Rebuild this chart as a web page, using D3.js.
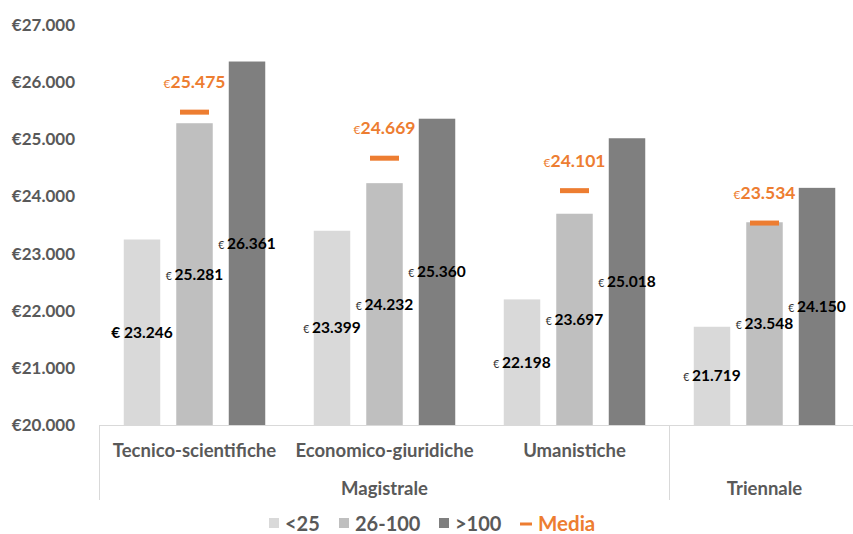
<!DOCTYPE html>
<html>
<head>
<meta charset="utf-8">
<script src="https://cdn.jsdelivr.net/npm/d3@7"></script>
<style>
  body { margin: 0; background: #fff; }
  svg { display: block; font-family: Lato, "Open Sans", sans-serif; }
</style>
</head>
<body>
<div id="chart"></div>
<script>
const groups = ['Tecnico-scientifiche', 'Economico-giuridiche', 'Umanistiche', 'Triennale']
const levels = ['Magistrale', 'Magistrale', 'Magistrale', 'Triennale']
const series = ['<25', '26-100', '>100']
const valLow = [23246, 23399, 22198, 21719]
const valMid = [25281, 24232, 23697, 23548]
const valHigh = [26361, 25360, 25018, 24150]
const media = [25475, 24669, 24101, 23534]
const yTicks = [20000, 21000, 22000, 23000, 24000, 25000, 26000, 27000]

const colors = ['#d9d9d9', '#bfbfbf', '#7f7f7f']
const orange = '#ed7d31'
const grey = '#595959'

const width = 853, height = 534
const svg = d3.select('#chart').append('svg')
    .attr('width', width)
    .attr('height', height)

const x0 = d3.scaleBand().domain(groups).range([99.5, 859.5])
const x1 = d3.scaleBand().domain(series).range([0, x0.bandwidth()])
    .paddingInner(0.305).paddingOuter(0.462)
const y = d3.scaleLinear().domain([20000, 27000]).range([425, 25])

const fmt = v => d3.format(',')(v).replace(/,/g, '.')

// y axis labels
svg.append('g')
  .selectAll('text')
  .data(yTicks)
  .enter().append('text')
    .attr('x', 75)
    .attr('y', d => y(d))
    .attr('dy', '0.35em')
    .attr('text-anchor', 'end')
    .attr('font-size', 17)
    .attr('font-weight', 'bold')
    .attr('fill', grey)
    .text(d => '€' + fmt(d))

// bars
const rows = groups.map((g, i) => ({
  group: g, idx: i,
  vals: [valLow[i], valMid[i], valHigh[i]]
}))

const gGroup = svg.append('g')
  .selectAll('g')
  .data(rows)
  .enter().append('g')
    .attr('transform', d => 'translate(' + x0(d.group) + ',0)')

gGroup.selectAll('rect')
  .data(d => d.vals.map((v, j) => ({ s: series[j], v: v, j: j, gi: d.idx })))
  .enter().append('rect')
    .attr('x', d => x1(d.s))
    .attr('y', d => y(d.v))
    .attr('width', x1.bandwidth())
    .attr('height', d => y(20000) - y(d.v))
    .attr('fill', d => colors[d.j])

// value labels, centred in the bars
const lab = gGroup.selectAll('text.val')
  .data(d => d.vals.map((v, j) => ({ s: series[j], v: v, j: j, gi: d.idx })))
  .enter().append('text')
    .attr('class', 'val')
    .attr('x', d => x1(d.s) + x1.bandwidth() / 2)
    .attr('y', d => (y(d.v) + y(20000)) / 2)
    .attr('dy', '0.35em')
    .attr('text-anchor', 'middle')
    .attr('font-size', 15.5)
    .attr('font-weight', 'bold')
    .attr('fill', '#000')
lab.append('tspan')
    .attr('font-size', d => d.gi === 0 && d.j === 0 ? 15.5 : 10.5)
    .attr('font-weight', d => d.gi === 0 && d.j === 0 ? 'bold' : 'normal')
    .attr('fill', d => d.gi === 0 && d.j === 0 ? '#000' : '#333')
    .text('€ ')
lab.append('tspan').text(d => fmt(d.v))

// media dash + label
gGroup.append('rect')
    .attr('x', x1('26-100') + x1.bandwidth() / 2 - 14.5)
    .attr('y', d => y(media[d.idx]) - 2.5)
    .attr('width', 29)
    .attr('height', 5)
    .attr('fill', orange)

const ml = gGroup.append('text')
    .attr('x', x1('26-100') + x1.bandwidth() / 2)
    .attr('y', d => y(media[d.idx]) - 30)
    .attr('dy', '0.35em')
    .attr('text-anchor', 'middle')
    .attr('font-size', 17.5)
    .attr('font-weight', 'bold')
    .attr('fill', orange)
ml.append('tspan').attr('font-size', 12).attr('font-weight', 'normal').text('€')
ml.append('tspan').text(d => fmt(media[d.idx]))

// category axis
svg.append('line')
    .attr('x1', 99.5).attr('x2', 859.5)
    .attr('y1', 425.5).attr('y2', 425.5)
    .attr('stroke', '#d9d9d9')
const dividers = [99.5, x0('Triennale')]
svg.append('g').selectAll('line')
  .data(dividers)
  .enter().append('line')
    .attr('x1', d => d).attr('x2', d => d)
    .attr('y1', 425).attr('y2', 500)
    .attr('stroke', '#d9d9d9')

svg.append('g').selectAll('text')
  .data(groups.slice(0, 3))
  .enter().append('text')
    .attr('x', d => x0(d) + x0.bandwidth() / 2)
    .attr('y', 451)
    .attr('dy', '0.35em')
    .attr('text-anchor', 'middle')
    .attr('font-size', 18.5)
    .attr('font-weight', 'bold')
    .attr('fill', grey)
    .text(d => d)

const levelNames = Array.from(new Set(levels))
svg.append('g').selectAll('text')
  .data(levelNames)
  .enter().append('text')
    .attr('x', l => {
      const gs = groups.filter((g, i) => levels[i] === l)
      return (x0(gs[0]) + x0(gs[gs.length - 1]) + x0.bandwidth()) / 2
    })
    .attr('y', 489)
    .attr('dy', '0.35em')
    .attr('text-anchor', 'middle')
    .attr('font-size', 18.5)
    .attr('font-weight', 'bold')
    .attr('fill', grey)
    .text(d => d)

// legend
const legend = svg.append('g')
const legX = [269, 339, 439]
series.forEach((s, j) => {
  legend.append('rect')
      .attr('x', legX[j]).attr('y', 518)
      .attr('width', 10).attr('height', 10)
      .attr('fill', colors[j])
  legend.append('text')
      .attr('x', legX[j] + 16).attr('y', 524)
      .attr('dy', '0.35em')
      .attr('font-size', 20)
      .attr('font-weight', 'bold')
      .attr('fill', grey)
      .text(s)
})
legend.append('rect')
    .attr('x', 520).attr('y', 522.5)
    .attr('width', 12).attr('height', 3)
    .attr('fill', orange)
legend.append('text')
    .attr('x', 538).attr('y', 524)
    .attr('dy', '0.35em')
    .attr('font-size', 20.5)
    .attr('font-weight', 'bold')
    .attr('fill', orange)
    .text('Media')
</script>
</body>
</html>
